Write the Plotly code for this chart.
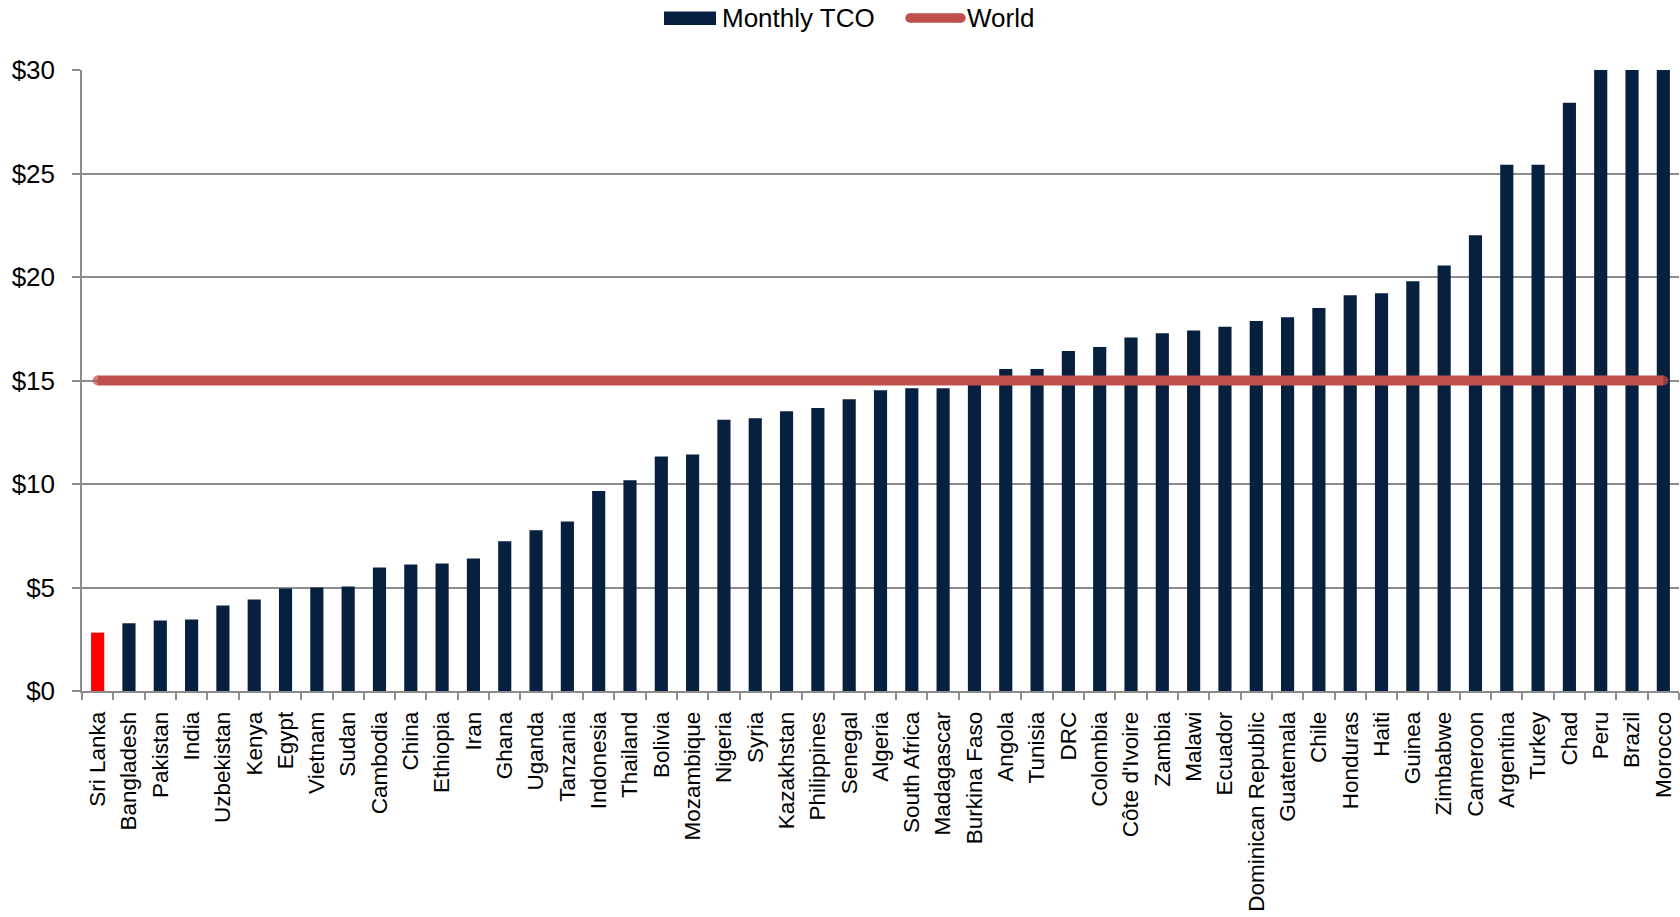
import plotly.graph_objects as go

countries = ["Sri Lanka", "Bangladesh", "Pakistan", "India", "Uzbekistan", "Kenya", "Egypt",
             "Vietnam", "Sudan", "Cambodia", "China", "Ethiopia", "Iran", "Ghana", "Uganda",
             "Tanzania", "Indonesia", "Thailand", "Bolivia", "Mozambique", "Nigeria", "Syria",
             "Kazakhstan", "Philippines", "Senegal", "Algeria", "South Africa", "Madagascar",
             "Burkina Faso", "Angola", "Tunisia", "DRC", "Colombia", "Côte d'Ivoire", "Zambia",
             "Malawi", "Ecuador", "Dominican Republic", "Guatemala", "Chile", "Honduras", "Haiti",
             "Guinea", "Zimbabwe", "Cameroon", "Argentina", "Turkey", "Chad", "Peru", "Brazil",
             "Morocco"]

monthly_tco = [2.82, 3.27, 3.40, 3.45, 4.13, 4.42, 4.95,
               5.00, 5.05, 5.97, 6.11, 6.16, 6.40, 7.23, 7.77,
               8.19, 9.66, 10.18, 11.33, 11.43, 13.10, 13.18,
               13.52, 13.67, 14.10, 14.53, 14.63, 14.63,
               15.00, 15.55, 15.55, 16.42, 16.62, 17.08, 17.28,
               17.42, 17.60, 17.88, 18.05, 18.50, 19.12, 19.22,
               19.80, 20.55, 22.02, 25.42, 25.42, 28.42, 30.0, 30.0,
               30.0]

world_value = 15.0
highlight = "Sri Lanka"

y_tick_vals = [0, 5, 10, 15, 20, 25, 30]
y_tick_text = ["$0", "$5", "$10", "$15", "$20", "$25", "$30"]

NAVY = "#08203f"
RED = "#ff0000"
WORLD_RED = "#c0504d"
GRID = "#8c8c8c"
FONT = "Liberation Sans, Arial, sans-serif"

W, H = 1680, 917
ML, MR, MT, MB = 82, 1, 70, 226
PW, PH = W - ML - MR, H - MT - MB


def px(x, y):
    return (x - ML) / PW, (H - MB - y) / PH


bar_colors = [RED if c == highlight else NAVY for c in countries]
world = [world_value] * len(countries)
cap_sizes = [10 if i in (0, len(countries) - 1) else 0 for i in range(len(countries))]

fig = go.Figure()
fig.add_trace(go.Bar(
    x=countries, y=monthly_tco, name="Monthly TCO",
    marker=dict(color=bar_colors, line=dict(width=0)),
    showlegend=False,
))
fig.add_trace(go.Scatter(
    x=countries, y=world, name="World", mode="lines+markers",
    line=dict(color=WORLD_RED, width=10),
    marker=dict(size=cap_sizes, color=WORLD_RED, line=dict(width=0)),
    showlegend=False,
))

# manual legend (wide swatches like the original)
shapes = []
x0, y0 = px(664, 11.5)
x1, y1 = px(716, 25)
shapes.append(dict(type="rect", xref="paper", yref="paper", x0=x0, y0=y0, x1=x1, y1=y1,
                   fillcolor=NAVY, line=dict(width=0)))
lx0, ly = px(910, 18)
lx1, _ = px(961, 18)
shapes.append(dict(type="line", xref="paper", yref="paper", x0=lx0, y0=ly, x1=lx1, y1=ly,
                   line=dict(color=WORLD_RED, width=9.5)))
for cx in (910, 961):
    a0, b0 = px(cx - 4.75, 13.25)
    a1, b1 = px(cx + 4.75, 22.75)
    shapes.append(dict(type="circle", xref="paper", yref="paper", x0=a0, y0=b0, x1=a1, y1=b1,
                       fillcolor=WORLD_RED, line=dict(width=0)))

annotations = []
tx, ty = px(720, 18)
annotations.append(dict(text="Monthly TCO", xref="paper", yref="paper", x=tx, y=ty,
                        xanchor="left", yanchor="middle", showarrow=False,
                        font=dict(family=FONT, size=26, color="#000")))
tx, ty = px(965, 18)
annotations.append(dict(text="World", xref="paper", yref="paper", x=tx, y=ty,
                        xanchor="left", yanchor="middle", showarrow=False,
                        font=dict(family=FONT, size=26, color="#000")))

fig.update_layout(
    width=W, height=H,
    margin=dict(l=ML, r=MR, t=MT, b=MB, pad=0),
    paper_bgcolor="white", plot_bgcolor="white",
    bargap=0.58,
    font=dict(family=FONT, color="#000"),
    shapes=shapes, annotations=annotations,
    xaxis=dict(
        type="category", categoryorder="array", categoryarray=countries,
        tickangle=-90, tickfont=dict(family=FONT, size=22.5, color="#000"),
        showline=True, linecolor=GRID, linewidth=1.5,
        ticks="outside", tickson="boundaries", ticklen=7, tickcolor=GRID, tickwidth=1.5,
        showgrid=False, ticklabelstandoff=10,
        range=[-0.5, len(countries) - 0.5],
    ),
    yaxis=dict(
        range=[0, 30], tickmode="array", tickvals=y_tick_vals, ticktext=y_tick_text,
        tickfont=dict(family=FONT, size=26, color="#000"),
        showline=True, linecolor=GRID, linewidth=1.5,
        ticks="outside", ticklen=8, tickcolor=GRID, tickwidth=1.5,
        showgrid=True, gridcolor=GRID, gridwidth=1.5, zeroline=False,
        ticklabelstandoff=12,
    ),
)

fig.write_html("out.html")
